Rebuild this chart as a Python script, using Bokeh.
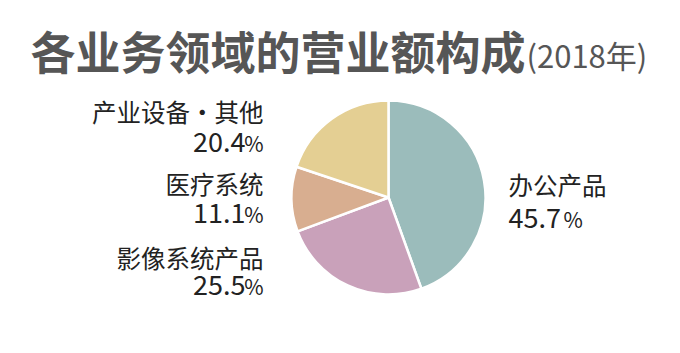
import math
from bokeh.plotting import figure
from bokeh.models import Range1d, ColumnDataSource
from bokeh.core.properties import value
from bokeh.embed import file_html
from bokeh.resources import INLINE

# ---- data ----
categories = ["办公产品", "影像系统产品", "医疗系统", "产业设备·其他"]
shares = [45.7, 25.5, 11.1, 20.4]
share_labels = ["45.7", "25.5", "11.1", "20.4"]
title_main = "各业务领域的营业额构成"
title_sub = "(2018年)"

palette = ["#9bbcbb", "#c9a1ba", "#d8ae90", "#e4cf93"]

W, H = 680, 353
FONT = "Noto Sans CJK SC"

p = figure(width=W, height=H, output_backend="svg", toolbar_location=None,
           x_range=Range1d(0, W), y_range=Range1d(0, H), min_border=0)
p.axis.visible = False
p.grid.visible = False
p.outline_line_color = None
p.background_fill_color = "white"
p.border_fill_color = "white"

def Y(py):
    return H - py

# pie
cx, cy, r = 388, Y(197), 97
total = sum(shares)
starts, ends = [], []
cum = 0.0
for s in shares:
    starts.append(math.pi / 2 - 2 * math.pi * cum / total)
    cum += s
    ends.append(math.pi / 2 - 2 * math.pi * cum / total)
src = ColumnDataSource(dict(start=starts, end=ends, color=palette, cat=categories))
p.wedge(x=cx, y=cy, radius=r, start_angle="start", end_angle="end", direction="clock",
        fill_color="color", line_color="white", line_width=2.5, source=src)

# title
p.text(x=[30], y=[Y(50)], text=[title_main], text_font=value(FONT), text_font_style="bold",
       text_font_size="45px", text_color="#565656", text_baseline="middle", text_align="left")
p.text(x=[526], y=[Y(54)], text=[title_sub], text_font=value(FONT),
       text_font_size="31px", text_color="#565656", text_baseline="middle", text_align="left")

# labels: (name_y, pct_y, align, x)
label_pos = {
    0: (184, 217, "left", 508),
    1: (257, 284, "right", 263),
    2: (183, 212, "right", 263),
    3: (111, 141, "right", 263),
}
TXT = "#222222"
for i, cat in enumerate(categories):
    ny, py, align, lx = label_pos[i]
    p.text(x=[lx], y=[Y(ny)], text=[cat], text_font=value(FONT), text_font_size="24.5px",
           text_color=TXT, text_baseline="middle", text_align=align)
    if align == "right":
        p.text(x=[lx], y=[Y(py + 1)], text=["%"], text_font=value(FONT), text_font_size="21px",
               text_color=TXT, text_baseline="middle", text_align="right")
        p.text(x=[lx - 18], y=[Y(py)], text=[share_labels[i]], text_font=value(FONT),
               text_font_size="27px", text_color=TXT, text_baseline="middle", text_align="right")
    else:
        p.text(x=[lx], y=[Y(py)], text=[share_labels[i]], text_font=value(FONT),
               text_font_size="27px", text_color=TXT, text_baseline="middle", text_align="left")
        p.text(x=[lx + 55], y=[Y(py + 1)], text=["%"], text_font=value(FONT), text_font_size="21px",
               text_color=TXT, text_baseline="middle", text_align="left")

open("out.html", "w").write(file_html(p, INLINE))
